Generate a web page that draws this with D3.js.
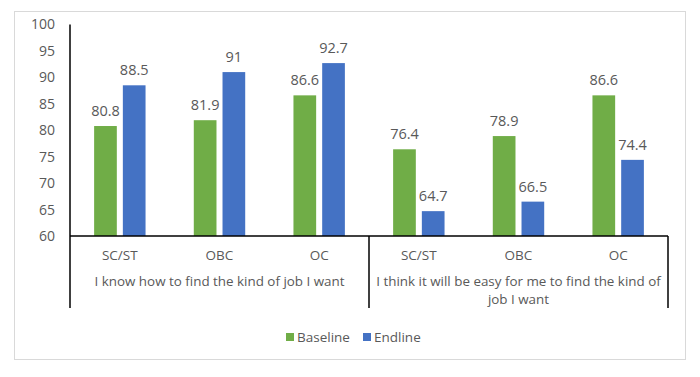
<!DOCTYPE html>
<html>
<head>
<meta charset="utf-8">
<script src="https://cdn.jsdelivr.net/npm/d3@7"></script>
<style>
  body { margin: 0; background: #fff; }
  svg { display: block; }
</style>
</head>
<body>
<svg width="700" height="377"></svg>
<script>
// data
const groups = [
    ["I know how to find the kind of job I want"],
    ["I think it will be easy for me to find the kind of", "job I want"]
];
const categories = ["SC/ST", "OBC", "OC"];
const series = ["Baseline", "Endline"];
const baseline = [80.8, 81.9, 86.6, 76.4, 78.9, 86.6];
const endline = [88.5, 91, 92.7, 64.7, 66.5, 74.4];
const yTicks = [60, 65, 70, 75, 80, 85, 90, 95, 100];

const colors = {Baseline: "#70AD47", Endline: "#4472C4"};
const textColor = "#595959";
const font = "'Open Sans', 'Noto Sans', sans-serif";

const svg = d3.select("svg");
const plotLeft = 70, plotRight = 668, plotTop = 24.5, plotBottom = 236, axisBottom = 308;

// chart frame
svg.append("rect")
    .attr("x", 14.5).attr("y", 11.5)
    .attr("width", 671).attr("height", 348)
    .attr("fill", "#fff")
    .attr("stroke", "#d9d9d9");

// one slot per (group, category)
const slots = [];
groups.forEach(function(g, gi) {
    categories.forEach(function(c, ci) {
        const i = gi * categories.length + ci;
        slots.push({key: gi + "-" + c, group: gi, cat: c, Baseline: baseline[i], Endline: endline[i]});
    });
});

const x0 = d3.scaleBand().domain(slots.map(d => d.key)).range([plotLeft, plotRight]);
const x1 = d3.scaleBand().domain(series).range([0, x0.bandwidth()])
    .paddingInner(0.21).paddingOuter(0.84);
const y = d3.scaleLinear().domain([60, 100]).range([plotBottom, plotTop]);

// y axis labels
const yAxis = svg.append("g")
    .attr("transform", "translate(" + plotLeft + ",0)")
    .call(d3.axisLeft(y).tickValues(yTicks).tickSize(0).tickPadding(15));
yAxis.select(".domain").remove();
yAxis.selectAll("text")
    .style("font-family", font)
    .style("font-size", "14px")
    .attr("fill", textColor);

// bars
const slot = svg.selectAll(".slot")
    .data(slots)
    .enter().append("g")
    .attr("class", "slot")
    .attr("transform", d => "translate(" + x0(d.key) + ",0)");

slot.selectAll("rect")
    .data(d => series.map(s => ({s: s, v: d[s]})))
    .enter().append("rect")
    .attr("x", d => x1(d.s))
    .attr("y", d => y(d.v))
    .attr("width", x1.bandwidth())
    .attr("height", d => plotBottom - y(d.v))
    .attr("fill", d => colors[d.s]);

slot.selectAll(".lbl")
    .data(d => series.map(s => ({s: s, v: d[s]})))
    .enter().append("text")
    .attr("class", "lbl")
    .attr("x", d => x1(d.s) + x1.bandwidth() / 2)
    .attr("y", d => y(d.v) - 10)
    .attr("text-anchor", "middle")
    .style("font-family", font)
    .style("font-size", "14.5px")
    .attr("fill", textColor)
    .text(d => d.v);

// category labels
slot.append("text")
    .attr("x", x0.bandwidth() / 2)
    .attr("y", 260)
    .attr("text-anchor", "middle")
    .style("font-family", font)
    .style("font-size", "13.5px")
    .attr("fill", textColor)
    .text(d => d.cat);

// group labels
const groupWidth = (plotRight - plotLeft) / groups.length;
groups.forEach(function(lines, gi) {
    const t = svg.append("text")
        .attr("text-anchor", "middle")
        .style("font-family", font)
        .style("font-size", "13.4px")
        .attr("fill", textColor);
    lines.forEach(function(line, li) {
        t.append("tspan")
            .attr("x", plotLeft + groupWidth * (gi + 0.5))
            .attr("y", 286 + li * 17.5)
            .text(line);
    });
});

// axis lines
svg.append("line")
    .attr("x1", plotLeft).attr("x2", plotLeft)
    .attr("y1", plotTop).attr("y2", axisBottom)
    .attr("stroke", "#000").attr("stroke-width", 1.5);
svg.append("line")
    .attr("x1", plotLeft).attr("x2", plotRight)
    .attr("y1", plotBottom).attr("y2", plotBottom)
    .attr("stroke", "#000").attr("stroke-width", 1.5);
for (let gi = 1; gi <= groups.length; gi++) {
    const gx = plotLeft + groupWidth * gi;
    svg.append("line")
        .attr("x1", gx).attr("x2", gx)
        .attr("y1", plotBottom).attr("y2", axisBottom)
        .attr("stroke", "#000").attr("stroke-width", 1.5);
}

// legend
const legendX = [286, 363];
const legend = svg.selectAll(".legend")
    .data(series)
    .enter().append("g")
    .attr("class", "legend")
    .attr("transform", (d, i) => "translate(" + legendX[i] + ",333)");
legend.append("rect")
    .attr("width", 8).attr("height", 8)
    .attr("fill", d => colors[d]);
legend.append("text")
    .attr("x", 11).attr("y", 9)
    .style("font-family", font)
    .style("font-size", "13.5px")
    .attr("fill", textColor)
    .text(d => d);
</script>
</body>
</html>
